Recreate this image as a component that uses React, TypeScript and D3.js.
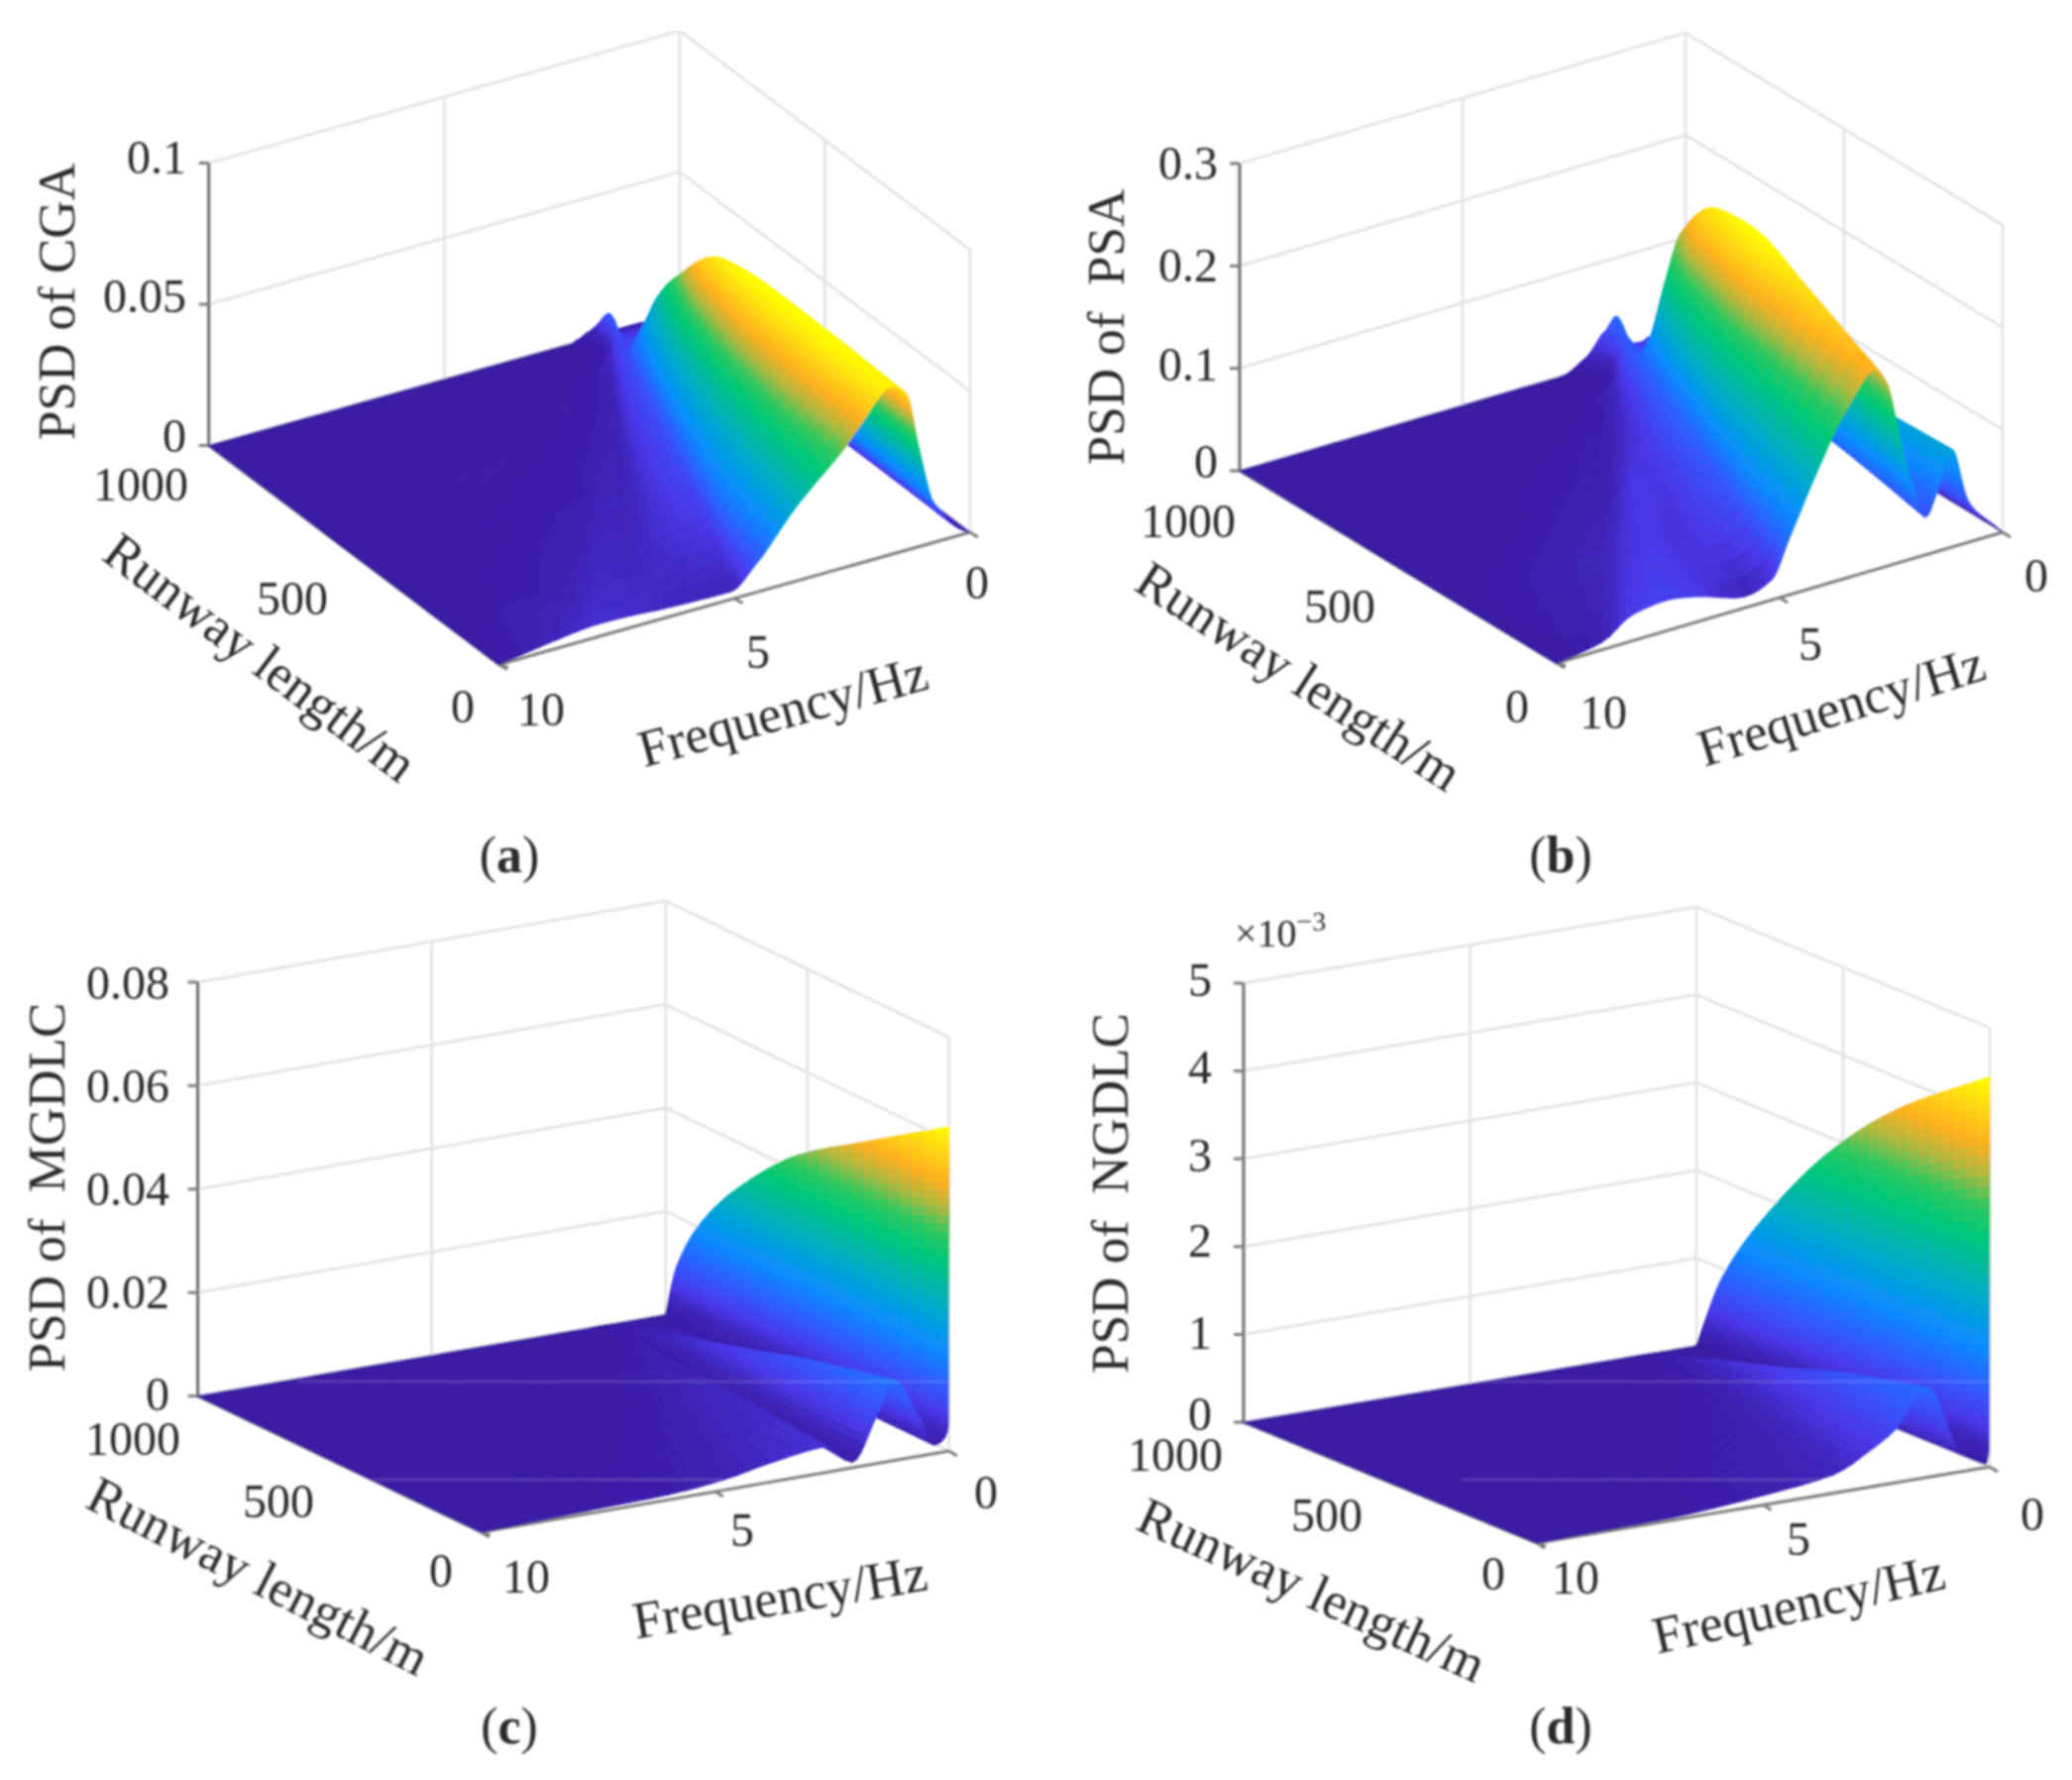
import { useMemo } from "react";
import * as d3 from "d3";

type Pt = [number, number];

// Runway stations (m) of each surface row, back to front
const cgaRunway = [1000, 950, 865, 810, 740, 600, 450, 280, 0];
const psaRunway = [1000, 950, 865, 810, 740, 600, 450, 280, 0];
const mgdlcRunway = [1000, 960, 866, 726, 538, 300, 0];
const ngdlcRunway = [1000, 913, 759, 537, 317, 0];

// Frequency (Hz) of the mesh knots on each row, read along the fan lines of the surface
const cgaFreq = [
  [10, 2.3, 2.2, 2.1, 2.0, 1.9, 1.85, 1.8, 1.75, 1.73, 1.69, 1.64, 1.6, 1.35, 1.05, 0.8, 0.6, 0.45, 0.2, 0],
  [10, 3.0, 2.22, 1.96, 1.92, 1.88, 1.85, 1.81, 1.78, 1.75, 1.71, 1.65, 1.61, 1.35, 1.05, 0.8, 0.6, 0.45, 0.2, 0],
  [10, 5.4, 3.27, 2.57, 2.45, 2.36, 2.26, 2.17, 2.07, 2.0, 1.89, 1.75, 1.62, 1.35, 1.05, 0.8, 0.6, 0.45, 0.2, 0],
  [10, 7.0, 3.96, 2.97, 2.8, 2.66, 2.53, 2.4, 2.27, 2.16, 2.0, 1.81, 1.62, 1.35, 1.05, 0.8, 0.6, 0.45, 0.2, 0],
  [10, 9.0, 4.82, 3.47, 3.24, 3.06, 2.87, 2.69, 2.51, 2.36, 2.14, 1.89, 1.63, 1.35, 1.05, 0.8, 0.6, 0.45, 0.2, 0],
  [10, 10, 6.56, 4.48, 4.12, 3.84, 3.56, 3.28, 3.0, 2.77, 2.43, 2.04, 1.65, 1.35, 1.06, 0.8, 0.6, 0.45, 0.2, 0],
  [10, 10, 8.42, 5.56, 5.07, 4.68, 4.3, 3.91, 3.53, 3.21, 2.75, 2.21, 1.67, 1.36, 1.06, 0.8, 0.6, 0.45, 0.2, 0],
  [10, 10, 10, 6.78, 6.14, 5.63, 5.13, 4.62, 4.12, 3.71, 3.1, 2.4, 1.69, 1.36, 1.07, 0.8, 0.6, 0.45, 0.2, 0],
  [10, 10, 10, 8.8, 7.9, 7.2, 6.5, 5.8, 5.1, 4.53, 3.69, 2.7, 1.72, 1.37, 1.08, 0.8, 0.6, 0.45, 0.2, 0],
];
const cgaPsd = [
  [0, 0, 0.0005, 0.001, 0.002, 0.0025, 0.003, 0.0035, 0.004, 0.003, 0.002, 0.001, 0.0005, 0.0005, 0.0005, 0.0004, 0.0003, 0.0002, 0.0001, 0],
  [0, 0, 0.0005, 0.0015, 0.003, 0.004, 0.005, 0.0075, 0.0117, 0.0095, 0.006, 0.005, 0.004, 0.004, 0.004, 0.004, 0.003, 0.003, 0.001, 0],
  [0, 0, 0.0005, 0.0012, 0.0025, 0.003, 0.0045, 0.0072, 0.008, 0.008, 0.0085, 0.009, 0.009, 0.009, 0.0085, 0.008, 0.007, 0.005, 0.002, 0],
  [0, 0, 0.0005, 0.001, 0.002, 0.0025, 0.0045, 0.007, 0.0095, 0.012, 0.017, 0.023, 0.028, 0.026, 0.02, 0.013, 0.01, 0.006, 0.002, 0],
  [0, 0, 0.0005, 0.001, 0.002, 0.002, 0.005, 0.0075, 0.0095, 0.016, 0.024, 0.033, 0.041, 0.039, 0.027, 0.015, 0.011, 0.007, 0.002, 0],
  [0, 0, 0.0005, 0.001, 0.002, 0.002, 0.0045, 0.007, 0.0095, 0.019, 0.03, 0.045, 0.058, 0.054, 0.035, 0.017, 0.012, 0.007, 0.002, 0],
  [0, 0, 0.0003, 0.0012, 0.0025, 0.0025, 0.004, 0.0065, 0.009, 0.019, 0.031, 0.048, 0.0608, 0.056, 0.036, 0.018, 0.012, 0.007, 0.002, 0],
  [0, 0, 0, 0.0015, 0.003, 0.0028, 0.004, 0.0055, 0.007, 0.018, 0.03, 0.047, 0.0607, 0.056, 0.035, 0.017, 0.011, 0.007, 0.002, 0],
  [0, 0, 0, 0.003, 0.0045, 0.0042, 0.0034, 0.003, 0.0028, 0.0103, 0.0264, 0.0418, 0.0594, 0.0557, 0.034, 0.0149, 0.01, 0.006, 0.002, 0],
];

const psaFreq = [
  [10, 2.8, 2.5, 2.35, 2.2, 2.07, 1.95, 1.85, 1.8, 1.76, 1.72, 1.66, 1.6, 1.5, 1.45, 1.3, 1.2, 1.0, 0.7, 0],
  [10, 3.1, 2.3, 2.07, 2.03, 2.0, 1.96, 1.9, 1.88, 1.84, 1.79, 1.73, 1.67, 1.56, 1.49, 1.32, 1.22, 1.01, 0.7, 0],
  [10, 5.5, 3.36, 2.69, 2.59, 2.49, 2.39, 2.25, 2.17, 2.09, 1.99, 1.89, 1.78, 1.65, 1.56, 1.36, 1.24, 1.02, 0.71, 0],
  [10, 7.1, 4.04, 3.09, 2.95, 2.81, 2.67, 2.48, 2.37, 2.27, 2.14, 1.99, 1.85, 1.71, 1.6, 1.38, 1.26, 1.03, 0.71, 0],
  [10, 9.1, 4.9, 3.6, 3.42, 3.22, 3.03, 2.76, 2.61, 2.48, 2.31, 2.13, 1.94, 1.79, 1.66, 1.41, 1.28, 1.04, 0.72, 0],
  [10, 10, 6.62, 4.62, 4.34, 4.04, 3.75, 3.34, 3.1, 2.91, 2.66, 2.41, 2.12, 1.94, 1.77, 1.47, 1.32, 1.06, 0.73, 0],
  [10, 10, 8.47, 5.72, 5.33, 4.92, 4.52, 3.95, 3.63, 3.38, 3.04, 2.7, 2.32, 2.11, 1.89, 1.54, 1.37, 1.08, 0.74, 0],
  [10, 10, 10, 6.96, 6.45, 5.92, 5.39, 4.64, 4.22, 3.9, 3.46, 3.03, 2.54, 2.3, 2.03, 1.61, 1.42, 1.1, 0.75, 0],
  [10, 10, 10, 9.0, 8.3, 7.56, 6.82, 5.79, 5.2, 4.76, 4.17, 3.57, 2.91, 2.61, 2.25, 1.73, 1.5, 1.14, 0.77, 0],
];
const psaPsd = [
  [0, 0, 0.004, 0.008, 0.012, 0.018, 0.025, 0.03, 0.03, 0.02, 0.015, 0.012, 0.008, 0.006, 0.006, 0.006, 0.006, 0.006, 0.003, 0],
  [0, 0, 0.002, 0.006, 0.012, 0.02, 0.03, 0.045, 0.0556, 0.048, 0.04, 0.03, 0.025, 0.025, 0.025, 0.022, 0.025, 0.03, 0.015, 0],
  [0, 0, 0.002, 0.008, 0.013, 0.02, 0.028, 0.04, 0.044, 0.04, 0.04, 0.04, 0.04, 0.04, 0.045, 0.045, 0.05, 0.06, 0.03, 0],
  [0, 0.0005, 0.002, 0.007, 0.012, 0.018, 0.025, 0.04, 0.05, 0.055, 0.065, 0.08, 0.09, 0.085, 0.07, 0.05, 0.06, 0.079, 0.04, 0],
  [0, 0.0005, 0.002, 0.006, 0.012, 0.018, 0.024, 0.04, 0.052, 0.085, 0.125, 0.155, 0.178, 0.16, 0.11, 0.05, 0.06, 0.08, 0.04, 0],
  [0, 0, 0.002, 0.006, 0.014, 0.02, 0.024, 0.04, 0.055, 0.1, 0.15, 0.2, 0.23, 0.205, 0.135, 0.055, 0.065, 0.083, 0.04, 0],
  [0, 0, 0.001, 0.008, 0.018, 0.024, 0.022, 0.035, 0.048, 0.095, 0.145, 0.2, 0.239, 0.215, 0.14, 0.055, 0.065, 0.085, 0.04, 0],
  [0, 0, 0, 0.012, 0.02, 0.024, 0.02, 0.03, 0.04, 0.085, 0.13, 0.18, 0.224, 0.2, 0.13, 0.05, 0.06, 0.09, 0.04, 0],
  [0, 0, 0, 0.0072, 0.0256, 0.03, 0.0244, 0.011, 0.0194, 0.0578, 0.1117, 0.16, 0.196, 0.18, 0.11, 0.037, 0.055, 0.095, 0.04, 0],
];

const mgdlcFreq = [
  [10, 1.6, 1.5, 1.45, 1.4, 1.35, 1.3, 1.25, 1.2, 0.7, 0.31, 0.12, 0.02, 0],
  [10, 1.86, 1.68, 1.58, 1.49, 1.4, 1.33, 1.26, 1.2, 0.7, 0.31, 0.12, 0.02, 0],
  [10, 2.46, 2.1, 1.9, 1.72, 1.53, 1.4, 1.3, 1.2, 0.7, 0.31, 0.12, 0.02, 0],
  [10, 3.35, 2.73, 2.37, 2.05, 1.72, 1.51, 1.35, 1.19, 0.7, 0.31, 0.12, 0.02, 0],
  [10, 4.56, 3.58, 3.0, 2.49, 1.97, 1.66, 1.41, 1.18, 0.7, 0.31, 0.12, 0.02, 0],
  [10, 6.08, 4.65, 3.81, 3.05, 2.3, 1.84, 1.5, 1.17, 0.7, 0.31, 0.12, 0.02, 0],
  [10, 8, 6, 4.82, 3.76, 2.7, 2.07, 1.58, 1.16, 0.7, 0.31, 0.12, 0.02, 0],
];
const mgdlcPsd = [
  [0, 0, 0, 0, 0, 0, 0, 0, 0, 0, 0, 0, 0, 0],
  [0, 0, 0.0001, 0.0002, 0.0003, 0.0004, 0.0004, 0.0006, 0.0007, 0.0006, 0.0005, 0.001, 0.002, 0.0105],
  [0, 0.0001, 0.0002, 0.0004, 0.0008, 0.0012, 0.0008, 0.0016, 0.0022, 0.0016, 0.001, 0.0018, 0.003, 0.0219],
  [0, 0.0002, 0.0004, 0.0008, 0.0015, 0.002, 0.001, 0.003, 0.0045, 0.003, 0.0012, 0.0022, 0.0038, 0.0324],
  [0, 0.0003, 0.0006, 0.0012, 0.0022, 0.003, 0.0012, 0.0045, 0.0075, 0.0045, 0.0015, 0.0026, 0.0042, 0.0429],
  [0, 0.0004, 0.0008, 0.0016, 0.003, 0.004, 0.0012, 0.0065, 0.0115, 0.0065, 0.0016, 0.0028, 0.0045, 0.0518],
  [0, 0.0005, 0.001, 0.002, 0.0038, 0.005, 0.0011, 0.0086, 0.0154, 0.0085, 0.0016, 0.0025, 0.0046, 0.0626],
];

const ngdlcFreq = [
  [10, 1.6, 1.5, 1.4, 1.3, 1.25, 1.2, 1.1, 0.68, 0.1, 0.05, 0.02, 0],
  [10, 2.16, 1.98, 1.71, 1.49, 1.38, 1.28, 1.12, 0.68, 0.1, 0.05, 0.02, 0],
  [10, 3.14, 2.83, 2.27, 1.82, 1.6, 1.42, 1.17, 0.68, 0.1, 0.05, 0.02, 0],
  [10, 4.56, 4.05, 3.07, 2.3, 1.92, 1.62, 1.23, 0.68, 0.1, 0.05, 0.02, 0],
  [10, 5.97, 5.26, 3.86, 2.78, 2.24, 1.81, 1.29, 0.68, 0.1, 0.05, 0.02, 0],
  [10, 8, 7, 5, 3.46, 2.7, 2.1, 1.38, 0.68, 0.1, 0.05, 0.02, 0],
];
const ngdlcPsd = [
  [0, 0, 0, 0, 0, 0, 0, 0, 0, 0, 0, 0, 0],
  [0, 0, 0, 0.00001, 0.00002, 0.00004, 0.00005, 0.0001, 0.00006, 0.00002, 0.00005, 0.0001, 0.00089],
  [0, 0, 0.00001, 0.00003, 0.00005, 0.0001, 0.00015, 0.00028, 0.00012, 0.00003, 0.00008, 0.00016, 0.00183],
  [0, 0.00001, 0.00002, 0.00005, 0.0001, 0.0002, 0.0003, 0.0005, 0.00018, 0.00004, 0.0001, 0.0002, 0.00287],
  [0, 0.00002, 0.00003, 0.00008, 0.00015, 0.0003, 0.00045, 0.00075, 0.00022, 0.00004, 0.0001, 0.0002, 0.00363],
  [0, 0.00002, 0.00003, 0.00011, 0.00021, 0.0004, 0.0006, 0.00102, 0.00025, 0.00004, 0.0001, 0.0002, 0.00444],
];

const freqTicks = [0, 5, 10];
const runwayTicks = [0, 500, 1000];
const cgaZTicks = [0, 0.05, 0.1];
const psaZTicks = [0, 0.1, 0.2, 0.3];
const mgdlcZTicks = [0, 0.02, 0.04, 0.06, 0.08];
const ngdlcZTicks = [0, 0.001, 0.002, 0.003, 0.004, 0.005];
const ngdlcZLabels = ["0", "1", "2", "3", "4", "5"];

// Colour stops of the surface, as a fraction of each panel's largest value
const colorStops = [0, 0.05, 0.1, 0.18, 0.3, 0.42, 0.58, 0.66, 0.74, 0.82, 0.93, 1];
const colorValues = ["#3c1ca4", "#4026bc", "#4a38e8", "#3458ff", "#0a8cff", "#00aacc", "#00c878", "#30c860", "#b0b840", "#ffb020", "#ffe010", "#ffff00"];
const colormap = d3.scaleLinear<string>().domain(colorStops).range(colorValues).interpolate(d3.interpolateRgb);

interface PanelDef {
  runway: number[];
  freq: number[][];
  psd: number[][];
  zMax: number;
  zHeight: number;
  zTicks: number[];
  zLabels: string[];
  // box corners at z=0: f=0/L=0, f=10/L=0, f=0/L=1000
  right: Pt;
  front: Pt;
  back: Pt;
  zLabelX: number;
  zLabelY: number[];
  runwayLabelPos: Pt[]; // for runwayTicks
  freqLabelPos: Pt[]; // for freqTicks
  zTitle: string;
  zTitlePos: Pt;
  runwayTitle: [number, number, number];
  freqTitle: [number, number, number];
  tag: string;
  tagPos: Pt;
  streaks: [number, number, number][];
  exponent?: Pt;
}

const panels: PanelDef[] = [
  {
    runway: cgaRunway, freq: cgaFreq, psd: cgaPsd, zMax: 0.1, zHeight: 285,
    zTicks: cgaZTicks, zLabels: ["0", "0.05", "0.1"],
    right: [979, 537], front: [503.7, 670.5], back: [686, 316],
    zLabelX: 188, zLabelY: [439, 298, 158],
    runwayLabelPos: [[467, 712], [295, 603], [142, 488]],
    freqLabelPos: [[986, 587], [765, 657], [546, 715]],
    zTitle: "PSD of CGA", zTitlePos: [57, 304],
    runwayTitle: [263, 663, 37], freqTitle: [790, 717, -15.4],
    tag: "a", tagPos: [514, 862], streaks: [],
  },
  {
    runway: psaRunway, freq: psaFreq, psd: psaPsd, zMax: 0.3, zHeight: 310,
    zTicks: psaZTicks, zLabels: ["0", "0.1", "0.2", "0.3"],
    right: [2021, 537], front: [1571, 669], back: [1701, 343],
    zLabelX: 1229, zLabelY: [465, 367, 267, 164],
    runwayLabelPos: [[1531, 712], [1352, 611], [1199, 525]],
    freqLabelPos: [[2055, 580], [1827, 649], [1618, 718]],
    zTitle: "PSD of\u00a0 PSA", zTitlePos: [1116, 330],
    runwayTitle: [1311, 682, 33], freqTitle: [1858, 712, -17.3],
    tag: "b", tagPos: [1575, 862], streaks: [],
  },
  {
    runway: mgdlcRunway, freq: mgdlcFreq, psd: mgdlcPsd, zMax: 0.08, zHeight: 417.6,
    zTicks: mgdlcZTicks, zLabels: ["0", "0.02", "0.04", "0.06", "0.08"],
    right: [957.8, 1464], front: [485.6, 1546], back: [671.8, 1326.6],
    zLabelX: 171, zLabelY: [1406, 1303, 1199, 1095, 991],
    runwayLabelPos: [[445, 1584], [281, 1514], [134, 1451]],
    freqLabelPos: [[995, 1505], [749, 1543], [531, 1590]],
    zTitle: "PSD of\u00a0 MGDLC", zTitlePos: [47, 1198],
    runwayTitle: [261, 1590, 27], freqTitle: [787, 1611, -9.5],
    tag: "c", tagPos: [514, 1741],
    streaks: [[300, 957, 1394], [375, 730, 1493]],
  },
  {
    runway: ngdlcRunway, freq: ngdlcFreq, psd: ngdlcPsd, zMax: 0.005, zHeight: 443,
    zTicks: ngdlcZTicks, zLabels: ngdlcZLabels,
    right: [2008, 1480], front: [1551, 1557], back: [1712, 1358],
    zLabelX: 1223, zLabelY: [1426, 1344, 1251, 1165, 1076, 988],
    runwayLabelPos: [[1507, 1587], [1339, 1528], [1186, 1467]],
    freqLabelPos: [[2051, 1527], [1815, 1552], [1590, 1591]],
    zTitle: "PSD of\u00a0 NGDLC", zTitlePos: [1120, 1204],
    runwayTitle: [1324, 1604, 24.4], freqTitle: [1815, 1618, -12.8],
    tag: "d", tagPos: [1575, 1741],
    streaks: [[1482, 2008, 1394], [1475, 1847, 1493]],
    exponent: [1246, 941],
  },
];

const FONT = "'Liberation Serif', serif";
const INK = "#2b2b2b";

// monotone cubic through the knots, so the drawn sheet is round at crests and never overshoots
function monotone(xs: number[], ys: number[]) {
  const n = xs.length;
  const d = d3.range(n - 1).map((i) => (ys[i + 1] - ys[i]) / (xs[i + 1] - xs[i]));
  const m = xs.map((_, i) => {
    if (i === 0) return d[0];
    if (i === n - 1) return d[n - 2];
    return d[i - 1] * d[i] <= 0 ? 0 : (2 * d[i - 1] * d[i]) / (d[i - 1] + d[i]);
  });
  return (x: number) => {
    const i = Math.min(n - 2, Math.max(0, d3.bisectRight(xs, x) - 1));
    const h = xs[i + 1] - xs[i];
    const t = (x - xs[i]) / h;
    const t2 = t * t;
    const t3 = t2 * t;
    return (
      (2 * t3 - 3 * t2 + 1) * ys[i] +
      (t3 - 2 * t2 + t) * h * m[i] +
      (-2 * t3 + 3 * t2) * ys[i + 1] +
      (t3 - t2) * h * m[i + 1]
    );
  };
}

function Panel({ def }: { def: PanelDef }) {
  const { right, front, back, zHeight } = def;
  const fScale = d3.scaleLinear().domain([0, 10]).range([0, 1]);
  const lScale = d3.scaleLinear().domain([0, 1000]).range([0, 1]);
  const zScale = d3.scaleLinear().domain([0, def.zMax]).range([0, zHeight]);

  const project = (f: number, l: number, z: number): Pt => [
    right[0] + fScale(f) * (front[0] - right[0]) + lScale(l) * (back[0] - right[0]),
    right[1] + fScale(f) * (front[1] - right[1]) + lScale(l) * (back[1] - right[1]) - zScale(z),
  ];
  const line = d3.line();

  const facets = useMemo(() => {
    const top = d3.max(def.psd.flat()) as number;
    const rows = def.runway.length;
    const cols = def.freq[0].length;
    const span = def.runway.map((l) => 1000 - l);
    const idx = d3.range(cols);

    // stations along the runway: more of them where the sheet changes fast
    const stations: number[] = [];
    for (let r = 0; r < rows - 1; r++) {
      const jump = d3.max(idx, (k) => Math.abs(def.psd[r + 1][k] - def.psd[r][k])) as number;
      const steps = Math.min(16, Math.max(5, Math.ceil((jump / top) * 40)));
      for (let i = 0; i < steps; i++) stations.push(span[r] + ((span[r + 1] - span[r]) * i) / steps);
    }
    stations.push(span[rows - 1]);

    // positions across the knots, from f=0 towards f=10 (painting order)
    const across: number[] = [];
    for (let k = cols - 1; k > 0; k--) {
      const jump = d3.max(d3.range(rows), (r) => Math.abs(def.psd[r][k] - def.psd[r][k - 1])) as number;
      const steps = Math.min(44, Math.max(4, Math.ceil((jump / top) * 50)));
      for (let i = 0; i < steps; i++) across.push(k - i / steps);
    }
    across.push(0);

    const colF = idx.map((k) => monotone(span, def.freq.map((row) => row[k])));
    const colZ = idx.map((k) => monotone(span, def.psd.map((row) => row[k])));
    const grid = stations.map((s) => {
      const acrossF = monotone(idx, idx.map((k) => colF[k](s)));
      const acrossZ = monotone(idx, idx.map((k) => colZ[k](s)));
      return across.map((u) => {
        const z = Math.max(0, acrossZ(u));
        return { p: project(acrossF(u), 1000 - s, z), z };
      });
    });

    const out: { d: string; c: string }[] = [];
    // paint back to front: far rows first, low frequency first on each row
    for (let i = 0; i < stations.length - 1; i++) {
      for (let j = 0; j < across.length - 1; j++) {
        const a = grid[i][j];
        const b = grid[i][j + 1];
        const c = grid[i + 1][j + 1];
        const e = grid[i + 1][j];
        const mean = (a.z + b.z + c.z + e.z) / 4;
        out.push({ d: (line([a.p, b.p, c.p, e.p]) as string) + "Z", c: colormap(mean / top) });
      }
    }
    return out;
  }, [def]);

  const left = project(10, 1000, 0);
  const zTop = (p: Pt): Pt => [p[0], p[1] - zHeight];
  const rightP = project(0, 0, 0);
  const frontP = project(10, 0, 0);

  return (
    <g>
      {/* back walls */}
      <g stroke="#e3e3e3" strokeWidth={2.8} fill="none">
        {def.zTicks.map((t) => (
          <path key={t} d={line([project(10, 1000, t), project(0, 1000, t), project(0, 0, t)]) as string} />
        ))}
        {freqTicks.filter((t) => t < 10).map((t) => (
          <path key={"f" + t} d={line([project(t, 1000, 0), zTop(project(t, 1000, 0))]) as string} />
        ))}
        {runwayTicks.filter((t) => t < 1000).map((t) => (
          <path key={"l" + t} d={line([project(0, t, 0), zTop(project(0, t, 0))]) as string} />
        ))}
      </g>
      {/* axes */}
      <g stroke="#7d7d7d" strokeWidth={3} fill="none">
        <path d={line([left, zTop(left)]) as string} stroke="#6a6a6a" />
        <path d={line([left, frontP, rightP]) as string} />
        {def.zTicks.map((t) => {
          const p = project(10, 1000, t);
          return <path key={t} d={line([p, [p[0] - 10, p[1]]]) as string} />;
        })}
        {runwayTicks.map((t) => {
          const p = project(10, t, 0);
          return <path key={"l" + t} d={line([p, [p[0] + 9, p[1] + 3]]) as string} />;
        })}
        {freqTicks.map((t) => {
          const p = project(t, 0, 0);
          return <path key={"f" + t} d={line([p, [p[0] + 8, p[1] + 5]]) as string} />;
        })}
      </g>
      {/* surface */}
      <g>
        {facets.map((q, i) => (
          <path key={i} d={q.d} fill={q.c} stroke={q.c} strokeWidth={1.2} />
        ))}
      </g>
      {def.streaks.map(([x0, x1, y]) => (
        <path key={y} d={line([[x0, y], [x1, y]]) as string} stroke="#fff" strokeOpacity={0.13} strokeWidth={3} />
      ))}
      {/* text */}
      <g fontFamily={FONT} fill={INK} fontSize={48}>
        {def.zLabels.map((s, i) => (
          <text key={s} x={def.zLabelX} y={def.zLabelY[i]} textAnchor="end" dominantBaseline="central">
            {s}
          </text>
        ))}
        {runwayTicks.map((t, i) => (
          <text key={t} x={def.runwayLabelPos[i][0]} y={def.runwayLabelPos[i][1]} textAnchor="middle" dominantBaseline="central">
            {t}
          </text>
        ))}
        {freqTicks.map((t, i) => (
          <text key={t} x={def.freqLabelPos[i][0]} y={def.freqLabelPos[i][1]} textAnchor="middle" dominantBaseline="central">
            {t}
          </text>
        ))}
        <g fontSize={53}>
          <text
            textAnchor="middle"
            dominantBaseline="central"
            transform={`translate(${def.zTitlePos[0]},${def.zTitlePos[1]}) rotate(-90)`}
          >
            {def.zTitle}
          </text>
          <text
            textAnchor="middle"
            dominantBaseline="central"
            transform={`translate(${def.runwayTitle[0]},${def.runwayTitle[1]}) rotate(${def.runwayTitle[2]})`}
          >
            Runway length/m
          </text>
          <text
            textAnchor="middle"
            dominantBaseline="central"
            transform={`translate(${def.freqTitle[0]},${def.freqTitle[1]}) rotate(${def.freqTitle[2]})`}
          >
            Frequency/Hz
          </text>
          <text x={def.tagPos[0]} y={def.tagPos[1]} textAnchor="middle" dominantBaseline="central" fontSize={52}>
            (<tspan fontWeight={700}>{def.tag}</tspan>)
          </text>
        </g>
        {def.exponent && (
          <text x={def.exponent[0]} y={def.exponent[1]} fontSize={40} dominantBaseline="central">
            ×10
            <tspan dy={-12} fontSize={28}>
              −3
            </tspan>
          </text>
        )}
      </g>
    </g>
  );
}

export default function App() {
  return (
    <svg width={2091} height={1796} style={{ position: "absolute", left: 0, top: 0, background: "#fff" }}>
      <defs>
        <filter id="soft" x="0" y="0" width="100%" height="100%">
          <feGaussianBlur stdDeviation={1} />
        </filter>
      </defs>
      <g filter="url(#soft)">
        {panels.map((p) => (
          <Panel key={p.tag} def={p} />
        ))}
      </g>
    </svg>
  );
}
